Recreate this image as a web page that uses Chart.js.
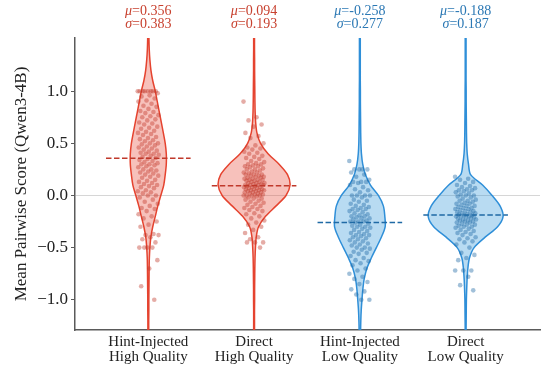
<!DOCTYPE html>
<html>
<head>
<meta charset="utf-8">
<script src="https://cdn.jsdelivr.net/npm/chart.js@4.4.1/dist/chart.umd.min.js"></script>
<style>
  html, body { margin: 0; padding: 0; background: #fff; }
  canvas { display: block; }
</style>
</head>
<body>
<canvas id="chart" width="544" height="372"></canvas>
<script>
const categories = [
  ['Hint-Injected', 'High Quality'],
  ['Direct', 'High Quality'],
  ['Hint-Injected', 'Low Quality'],
  ['Direct', 'Low Quality']
];
const means = [0.356, 0.094, -0.258, -0.188];
const stds = [0.383, 0.193, 0.277, 0.187];
const yTicks = [-1.0, -0.5, 0.0, 0.5, 1.0];

// violin half-widths (in category units), per score level
const densityLevels = [-1.4, -1.3, -1.2, -1.1, -1.0, -0.9, -0.8, -0.7, -0.6, -0.5, -0.4, -0.3, -0.2, -0.1, 0.0,
  0.1, 0.2, 0.3, 0.4, 0.5, 0.6, 0.7, 0.8, 0.9, 1.0, 1.1, 1.2, 1.3, 1.4, 1.5, 1.6];
const hintHighDensity = [0.004, 0.004, 0.004, 0.005, 0.005, 0.006, 0.007, 0.008, 0.010, 0.015, 0.024, 0.042, 0.066, 0.090, 0.118,
  0.146, 0.160, 0.170, 0.170, 0.160, 0.142, 0.123, 0.104, 0.085, 0.066, 0.042, 0.025, 0.015, 0.009, 0.006, 0.005];
const directHighDensity = [0.004, 0.004, 0.004, 0.004, 0.005, 0.005, 0.006, 0.007, 0.009, 0.013, 0.020, 0.042, 0.108, 0.208, 0.302,
  0.340, 0.316, 0.236, 0.132, 0.061, 0.027, 0.015, 0.010, 0.008, 0.007, 0.006, 0.005, 0.005, 0.004, 0.004, 0.004];
const hintLowDensity = [0.006, 0.007, 0.009, 0.013, 0.020, 0.028, 0.041, 0.066, 0.108, 0.156, 0.203, 0.239, 0.236, 0.222, 0.175,
  0.100, 0.052, 0.027, 0.015, 0.010, 0.008, 0.007, 0.006, 0.005, 0.005, 0.004, 0.004, 0.004, 0.004, 0.004, 0.004];
const directLowDensity = [0.004, 0.004, 0.005, 0.006, 0.007, 0.010, 0.014, 0.021, 0.036, 0.080, 0.184, 0.302, 0.354, 0.325, 0.250,
  0.160, 0.047, 0.027, 0.015, 0.010, 0.008, 0.007, 0.006, 0.005, 0.005, 0.004, 0.004, 0.004, 0.004, 0.004, 0.004];

// individual scores (estimated from the scattered dots)
const hintHighScores = [1.0, 1.0, 1.0, 1.0, 1.0, 1.0, 1.0, 1.0, 0.98, 0.96, 0.95, 0.93, 0.91, 0.9, 0.88, 0.86, 0.85, 0.83,
  0.81, 0.8, 0.79, 0.77, 0.76, 0.75, 0.73, 0.72, 0.7, 0.69, 0.68, 0.66, 0.65, 0.64, 0.62, 0.61, 0.6, 0.59, 0.58, 0.56,
  0.55, 0.54, 0.53, 0.52, 0.5, 0.5, 0.49, 0.48, 0.47, 0.46, 0.45, 0.44, 0.43, 0.42, 0.41, 0.4, 0.4, 0.39, 0.38, 0.37,
  0.36, 0.35, 0.34, 0.33, 0.32, 0.31, 0.3, 0.3, 0.29, 0.28, 0.27, 0.25, 0.25, 0.24, 0.23, 0.22, 0.21, 0.2, 0.19, 0.18,
  0.17, 0.15, 0.14, 0.13, 0.12, 0.11, 0.1, 0.09, 0.08, 0.07, 0.05, 0.04, 0.03, 0.02, 0.0, 0.0, -0.02, -0.04, -0.06,
  -0.08, -0.1, -0.12, -0.13, -0.15, -0.18, -0.2, -0.22, -0.25, -0.28, -0.3, -0.37, -0.38, -0.38, -0.4, -0.42, -0.45,
  -0.5, -0.5, -0.5, -0.5, -0.62, -0.7, -0.87, -1.0];
const directHighScores = [0.9, 0.75, 0.72, 0.68, 0.66, 0.6, 0.57, 0.55, 0.5, 0.48, 0.46, 0.45, 0.44, 0.42, 0.41, 0.4,
  0.38, 0.37, 0.36, 0.35, 0.33, 0.32, 0.31, 0.3, 0.3, 0.29, 0.28, 0.28, 0.27, 0.26, 0.25, 0.25, 0.24, 0.23, 0.22, 0.22,
  0.21, 0.2, 0.2, 0.2, 0.19, 0.19, 0.18, 0.18, 0.17, 0.17, 0.16, 0.16, 0.15, 0.15, 0.15, 0.14, 0.14, 0.13, 0.13, 0.12,
  0.12, 0.12, 0.11, 0.11, 0.1, 0.1, 0.1, 0.1, 0.09, 0.09, 0.08, 0.08, 0.08, 0.07, 0.07, 0.06, 0.06, 0.06, 0.05, 0.05,
  0.05, 0.04, 0.04, 0.03, 0.03, 0.03, 0.02, 0.02, 0.01, 0.01, 0.0, 0.0, 0.0, 0.0, -0.01, -0.02, -0.03, -0.03, -0.04,
  -0.05, -0.06, -0.07, -0.08, -0.09, -0.1, -0.11, -0.12, -0.13, -0.14, -0.15, -0.17, -0.18, -0.2, -0.22, -0.24, -0.26,
  -0.28, -0.3, -0.33, -0.36, -0.4, -0.42, -0.45, -0.45, -0.45, -0.5];
const hintLowScores = [0.33, 0.25, 0.25, 0.25, 0.25, 0.22, 0.2, 0.18, 0.15, 0.13, 0.13, 0.13, 0.12, 0.1, 0.08, 0.06, 0.05,
  0.03, 0.0, 0.0, 0.0, 0.0, -0.02, -0.04, -0.05, -0.06, -0.08, -0.09, -0.1, -0.11, -0.12, -0.13, -0.13, -0.14, -0.15,
  -0.16, -0.17, -0.18, -0.19, -0.2, -0.2, -0.21, -0.22, -0.22, -0.23, -0.24, -0.25, -0.25, -0.25, -0.26, -0.27, -0.28,
  -0.29, -0.3, -0.3, -0.31, -0.32, -0.33, -0.34, -0.35, -0.36, -0.37, -0.38, -0.38, -0.39, -0.4, -0.41, -0.42, -0.43,
  -0.44, -0.45, -0.46, -0.47, -0.48, -0.5, -0.5, -0.51, -0.52, -0.54, -0.55, -0.56, -0.58, -0.6, -0.62, -0.63, -0.65,
  -0.67, -0.7, -0.72, -0.75, -0.78, -0.8, -0.83, -0.85, -0.9, -0.92, -0.95, -1.0, -1.0];
const directLowScores = [0.18, 0.16, 0.15, 0.13, 0.12, 0.1, 0.09, 0.08, 0.07, 0.06, 0.05, 0.05, 0.04, 0.03, 0.02, 0.01,
  0.0, 0.0, -0.01, -0.02, -0.03, -0.04, -0.05, -0.05, -0.06, -0.07, -0.08, -0.08, -0.09, -0.1, -0.1, -0.11, -0.12, -0.12,
  -0.13, -0.13, -0.14, -0.15, -0.15, -0.16, -0.16, -0.17, -0.17, -0.18, -0.18, -0.19, -0.19, -0.2, -0.2, -0.2, -0.21,
  -0.21, -0.22, -0.22, -0.23, -0.23, -0.24, -0.24, -0.25, -0.25, -0.26, -0.26, -0.27, -0.28, -0.28, -0.29, -0.3, -0.3,
  -0.31, -0.32, -0.33, -0.34, -0.35, -0.36, -0.37, -0.38, -0.4, -0.41, -0.42, -0.44, -0.45, -0.47, -0.5, -0.55, -0.57,
  -0.6, -0.62, -0.72, -0.72, -0.72, -0.78, -0.86, -0.91];

const red = { fill: 'rgba(231,76,60,0.35)', line: '#e5432f', mean: '#c0392b', dot: 'rgba(192,57,43,0.42)', text: '#c8412f' };
const blue = { fill: 'rgba(52,152,219,0.35)', line: '#2f8fd8', mean: '#1f6aa5', dot: 'rgba(31,106,165,0.42)', text: '#2b78b4' };

const groups = [
  { scores: hintHighScores, density: hintHighDensity, theme: red },
  { scores: directHighScores, density: directHighDensity, theme: red },
  { scores: hintLowScores, density: hintLowDensity, theme: blue },
  { scores: directLowScores, density: directLowDensity, theme: blue }
];

const datasets = [];
groups.forEach((g, i) => {
  const left = densityLevels.map((y, k) => ({ x: i - g.density[k], y }));
  const right = densityLevels.map((y, k) => ({ x: i + g.density[k], y })).reverse();
  datasets.push({
    data: left.concat(right, [left[0]]),
    showLine: true, fill: 'shape', tension: 0.3,
    backgroundColor: g.theme.fill, borderColor: g.theme.line, borderWidth: 1.5,
    pointRadius: 0, order: 3
  });
  // jitter x so the dots spread across the strip
  datasets.push({
    data: g.scores.map((s, k) => ({ x: i + (((k * 0.6180339887) % 1) - 0.5) * 0.2, y: s })),
    backgroundColor: g.theme.dot, borderWidth: 0, pointRadius: 2.3, order: 2
  });
  datasets.push({
    data: [{ x: i - 0.4, y: means[i] }, { x: i + 0.4, y: means[i] }],
    showLine: true, borderColor: g.theme.mean, borderWidth: 1.5, borderDash: [5.5, 2.5],
    pointRadius: 0, order: 1
  });
});

const serif = '"Liberation Serif", "Times New Roman", serif';

const statLabels = {
  id: 'statLabels',
  afterDraw(chart) {
    const { ctx, scales: { x } } = chart;
    ctx.save();
    ctx.textBaseline = 'middle';
    ctx.textAlign = 'left';
    const drawStat = (sym, val, cx, cy) => {
      ctx.font = 'italic 14px ' + serif;
      const w1 = ctx.measureText(sym).width;
      ctx.font = '14px ' + serif;
      const w2 = ctx.measureText(val).width;
      const x0 = cx - (w1 + w2) / 2;
      ctx.font = 'italic 14px ' + serif;
      ctx.fillText(sym, x0, cy);
      ctx.font = '14px ' + serif;
      ctx.fillText(val, x0 + w1, cy);
    };
    means.forEach((m, i) => {
      const px = x.getPixelForValue(i);
      ctx.fillStyle = groups[i].theme.text;
      drawStat('μ', '=' + m.toFixed(3), px, 11);
      drawStat('σ', '=' + stds[i].toFixed(3), px, 24.5);
    });
    ctx.restore();
  }
};

new Chart(document.getElementById('chart'), {
  type: 'scatter',
  data: { datasets },
  options: {
    responsive: false,
    animation: false,
    layout: { padding: { top: 38, right: 3, left: 0, bottom: 0 } },
    plugins: { legend: { display: false }, tooltip: { enabled: false } },
    scales: {
      x: {
        type: 'linear', min: -0.693, max: 3.703,
        afterFit: s => { s.height = 42; },
        afterBuildTicks: s => { s.ticks = categories.map((c, i) => ({ value: i })); },
        grid: { display: false, drawTicks: false },
        border: { display: true, color: '#5a5a5a', width: 1.5 },
        ticks: {
          autoSkip: false, maxRotation: 0, padding: 5, color: '#222',
          font: { family: serif, size: 15, lineHeight: 0.98 },
          callback: v => categories[v]
        }
      },
      y: {
        min: -1.29, max: 1.51,
        afterFit: s => { s.width = 75; },
        afterBuildTicks: s => { s.ticks = yTicks.map(v => ({ value: v })); },
        grid: {
          drawOnChartArea: true, drawTicks: true, tickLength: 4, tickColor: '#5a5a5a', lineWidth: 1,
          color: c => (c.tick && c.tick.value === 0 ? '#d6d6d6' : 'rgba(0,0,0,0)')
        },
        border: { display: true, color: '#5a5a5a', width: 1.5 },
        ticks: {
          padding: 3, color: '#222', font: { family: serif, size: 17 },
          callback: v => (v < 0 ? '\u2212' : '') + Math.abs(v).toFixed(1)
        },
        title: {
          display: true, text: 'Mean Pairwise Score (Qwen3-4B)', color: '#222',
          font: { family: serif, size: 17 }, padding: { top: 11, bottom: 0 }
        }
      }
    }
  },
  plugins: [statLabels]
});
</script>
</body>
</html>
